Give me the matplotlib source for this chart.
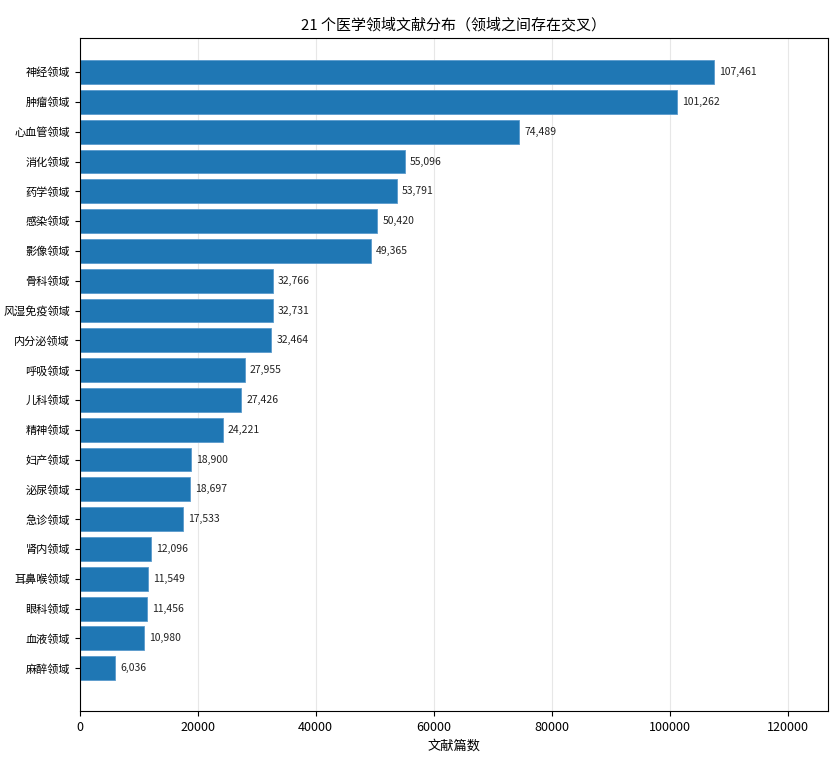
import matplotlib
matplotlib.use("Agg")
import matplotlib.pyplot as plt
import numpy as np

plt.rcParams['font.family'] = ['Noto Sans CJK SC', 'DejaVu Sans']

fields = ['神经领域', '肿瘤领域', '心血管领域', '消化领域', '药学领域', '感染领域',
          '影像领域', '骨科领域', '风湿免疫领域', '内分泌领域', '呼吸领域', '儿科领域',
          '精神领域', '妇产领域', '泌尿领域', '急诊领域', '肾内领域', '耳鼻喉领域',
          '眼科领域', '血液领域', '麻醉领域']
counts = [107461, 101262, 74489, 55096, 53791, 50420, 49365, 32766, 32731, 32464,
          27955, 27426, 24221, 18900, 18697, 17533, 12096, 11549, 11456, 10980, 6036]

fig, ax = plt.subplots(figsize=(8.38, 7.63), dpi=100)
y = np.arange(len(fields))
ax.barh(y, counts, height=0.8, color='#1f77b4', edgecolor='#5a9acc', linewidth=0.6)
ax.set_yticks(y)
ax.set_yticklabels(fields, fontsize=8)
ax.set_ylim(len(fields) - 1 + 1.44, -1.14)
ax.set_xlim(0, max(counts) * 1.18)

for yi, c in zip(y, counts):
    ax.text(c + max(counts) * 0.008, yi, f'{c:,}', va='center', ha='left', fontsize=7.5, color='#222222')

ax.tick_params(axis='x', labelsize=9)
ax.set_xlabel('文献篇数', fontsize=9.5)
ax.set_title('21 个医学领域文献分布（领域之间存在交叉）', fontsize=10.8)
ax.grid(axis='x', alpha=0.3)
ax.set_axisbelow(True)

fig.subplots_adjust(left=0.095, right=0.988, top=0.95, bottom=0.068)
fig.savefig('out.png', dpi=100)
